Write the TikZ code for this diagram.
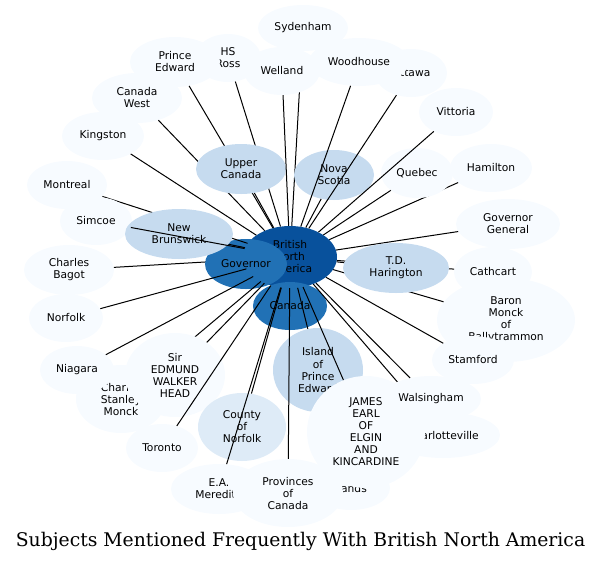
\documentclass[tikz,border=0pt]{standalone}
\usepackage{fontspec}
\setmainfont{DejaVu Sans}
\newfontfamily\titlefont{DejaVu Serif}
\usepackage{xcolor}
\usepackage{tikz}
\usetikzlibrary{shapes.geometric}

\definecolor{hubblue}{HTML}{08519C}
\definecolor{midblue}{HTML}{2171B5}
\definecolor{paleblue}{HTML}{C6DBEF}
\definecolor{softblue}{HTML}{DEEBF7}
\definecolor{faintblue}{HTML}{F7FBFF}

\begin{document}
\begin{tikzpicture}[x=1pt, y=-1pt,
    bubble/.style={ellipse, inner sep=0pt, align=center, font=\fontsize{10.7}{12}\selectfont},
    wh/.style 2 args={minimum width=#1pt, minimum height=#2pt},
    hub/.style={bubble, fill=hubblue},
    mid/.style={bubble, fill=midblue},
    pale/.style={bubble, fill=paleblue},
    soft/.style={bubble, fill=softblue},
    faint/.style={bubble, fill=faintblue},
    link/.style={line width=1pt}]
    \useasboundingbox (0,0) rectangle (601,563);

    % centre
    \node[hub, wh={94}{62}] (bna) at (290,257) {British\\North\\America};
    \node[faint, wh={90}{50}] (cb) at (69,270) {Charles\\Bagot};
    \draw[link] (bna) -- (cb);
    \node[mid, wh={82}{50}] (gov) at (246,264) {Governor};
    \node[mid, wh={74}{48}] (can) at (290,306) {Canada};

    % upper left
    \node[faint, wh={82}{48}] (kin) at (103,136) {Kingston};
    \node[faint, wh={90}{50}] (cw) at (137,98) {Canada\\West};
    \node[faint, wh={66}{48}] (hsr) at (228,58) {HS\\Ross};
    \node[faint, wh={90}{50}] (ped) at (175,62) {Prince\\Edward};
    \foreach \n in {kin,cw,hsr,ped} {
        \draw[link] (bna) -- (\n);
    }
    \node[pale, wh={90}{50}] (uc) at (241,169) {Upper\\Canada};
    \draw[link] (bna) -- (uc);

    % top
    \node[faint, wh={90}{46}] (syd) at (303,28) {Sydenham};
    \draw[link] (bna) -- (syd);
    \node[faint, wh={76}{48}] (wel) at (282,71) {Welland};
    \draw[link] (bna) -- (wel);
    \node[faint, wh={72}{48}] (ott) at (411,73) {Ottawa};
    \node[faint, wh={100}{48}] (woo) at (359,62) {Woodhouse};
    \node[pale, wh={80}{50}] (ns) at (334,175) {Nova\\Scotia};
    \foreach \n in {ns,woo,ott} {
        \draw[link] (bna) -- (\n);
    }

    % upper right
    \node[faint, wh={74}{48}] (vit) at (456,112) {Vittoria};
    \node[faint, wh={82}{48}] (ham) at (491,168) {Hamilton};
    \draw[link] (bna) -- (ham);
    \node[faint, wh={72}{50}] (que) at (417,173) {Quebec};
    \draw[link] (bna) -- (que);
    \draw[link] (bna) -- (vit);

    % right
    \node[faint, wh={104}{50}] (gg) at (508,224) {Governor\\General};
    \node[faint, wh={78}{50}] (cat) at (493,272) {Cathcart};
    \node[faint, wh={138}{84}] (bm) at (506,320) {Baron\\Monck\\of\\Ballytrammon};
    \foreach \n in {gg,cat,bm} {
        \draw[link] (bna) -- (\n);
    }
    \node[pale, wh={106}{50}] (tdh) at (396,268) {T.D.\\Harington};
    \draw[link] (bna) -- (tdh);
    \node[faint, wh={82}{48}] (sta) at (473,360) {Stamford};
    \draw[link] (bna) -- (sta);

    % left
    \node[faint, wh={80}{48}] (mon) at (67,185) {Montreal};
    \draw[link] (bna) -- (mon);
    \node[faint, wh={72}{48}] (sim) at (96,221) {Simcoe};
    \node[pale, wh={108}{50}] (nb) at (179,234) {New\\Brunswick};
    \draw[link] (bna) -- (nb);
    \draw[link] (bna) -- (sim);
    \node[faint, wh={74}{48}] (nor) at (66,318) {Norfolk};
    \draw[link] (bna) -- (nor);

    % lower left
    \node[faint, wh={90}{68}] (csm) at (121,399) {Charles\\Stanley\\Monck};
    \draw[link] (bna) -- (csm);
    \node[faint, wh={74}{48}] (nia) at (77,370) {Niagara};
    \draw[link] (bna) -- (nia);
    \node[faint, wh={100}{84}] (sewh) at (175,375) {Sir\\EDMUND\\WALKER\\HEAD};
    \draw[link] (bna) -- (sewh);
    \node[faint, wh={72}{48}] (tor) at (162,448) {Toronto};
    \draw[link] (bna) -- (tor);

    % bottom
    \node[pale, wh={90}{84}] (ipe) at (318,370) {Island\\of\\Prince\\Edward};
    \node[soft, wh={88}{68}] (con) at (242,427) {County\\of\\Norfolk};
    \node[faint, wh={96}{50}] (eam) at (219,489) {E.A.\\Meredith};
    \foreach \n in {ipe,con,eam} {
        \draw[link] (bna) -- (\n);
    }
    \node[faint, wh={78}{44}] (lan) at (351,488) {Lands};
    \node[faint, wh={110}{68}] (poc) at (288,493) {Provinces\\of\\Canada};
    \draw[link] (bna) -- (poc);
    \node[faint, wh={114}{46}] (cha) at (443,435) {Charlotteville};
    \draw[link] (bna) -- (cha);
    \node[faint, wh={118}{112}] (jam) at (366,432) {JAMES\\EARL\\OF\\ELGIN\\AND\\KINCARDINE};
    \draw[link] (bna) -- (jam);
    \node[faint, wh={100}{46}] (wal) at (431,399) {Walsingham};
    \draw[link] (bna) -- (wal);

    \node[font=\titlefont\fontsize{18.8}{22}\selectfont] (title) at (300.5,541)
        {Subjects Mentioned Frequently With British North America};
\end{tikzpicture}
\end{document}
